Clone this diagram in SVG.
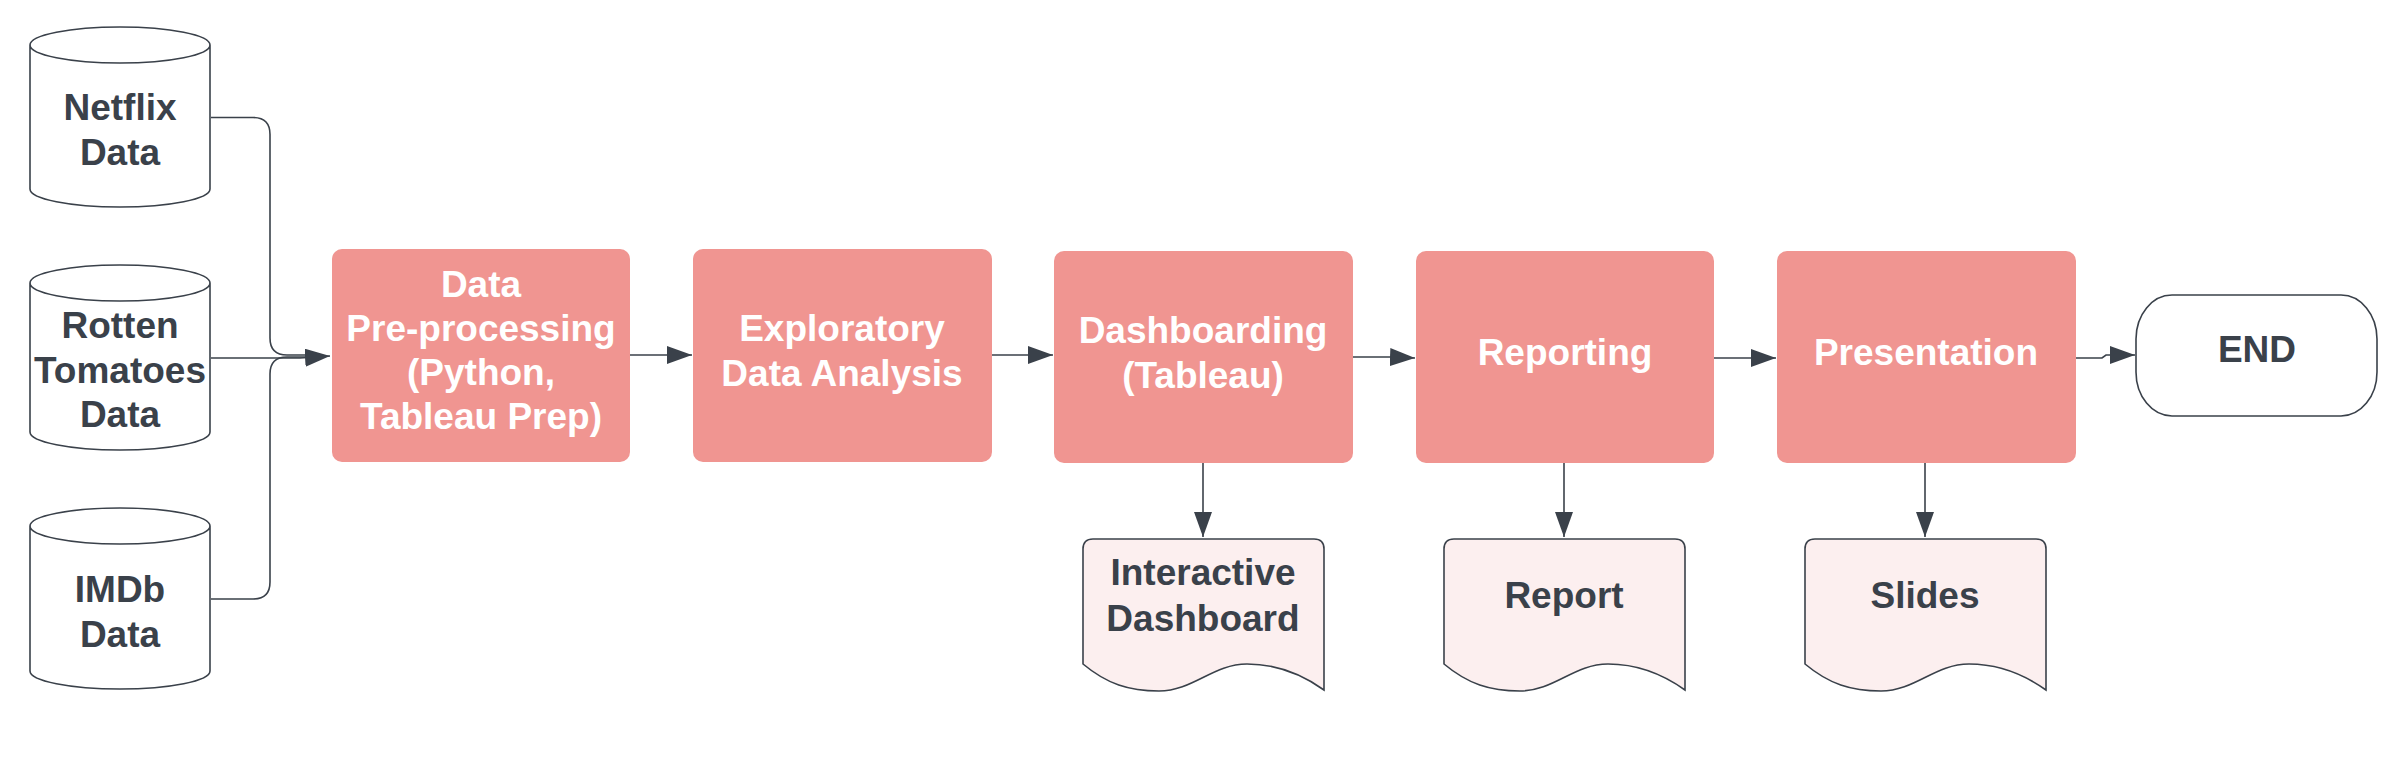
<svg xmlns="http://www.w3.org/2000/svg" width="2402" height="758" viewBox="0 0 2402 758">
<style>
.t{font-family:"Liberation Sans",Arial,sans-serif;font-weight:bold;font-size:37px;text-anchor:middle}
.dk{fill:#3a414a}
.wh{fill:#ffffff}
.box{fill:#f09591}
.shp{fill:#ffffff;stroke:#3a414a;stroke-width:1.6}
.doc{fill:#fcefef;stroke:#3a414a;stroke-width:1.6}
.ln{fill:none;stroke:#3a414a;stroke-width:1.6}
</style>
<defs>
<marker id="ah" markerUnits="userSpaceOnUse" markerWidth="26" markerHeight="18" viewBox="0 0 26 18" refX="25" refY="9" orient="auto">
<path d="M0,0 L25,9 L0,18 Z" fill="#3a414a"/>
</marker>
<path id="docshape" d="M0,10 Q0,0 10,0 H231 Q241,0 241,10 V151 C220,136 196,125 164,125 C130,125 110,152 76,152 C46,152 24,145 0,125 Z"/>
</defs>

<g id="connectors">
<path class="ln" d="M211,117.5 H253 Q270,117.5 270,134.5 V338 Q270,355 287,355 H306"/>
<path class="ln" d="M211,599 H253 Q270,599 270,582 V374 Q270,357 287,357 H306"/>
<path class="ln" d="M211,358 H300 L330,356" marker-end="url(#ah)"/>
<path class="ln" d="M630,355 H692" marker-end="url(#ah)"/>
<path class="ln" d="M992,355 H1053" marker-end="url(#ah)"/>
<path class="ln" d="M1353,357 H1390 L1415,358" marker-end="url(#ah)"/>
<path class="ln" d="M1714,358 H1776" marker-end="url(#ah)"/>
<path class="ln" d="M2076,358 H2102 L2106,355 H2135" marker-end="url(#ah)"/>
<path class="ln" d="M1203,463 V537" marker-end="url(#ah)"/>
<path class="ln" d="M1564,463 V537" marker-end="url(#ah)"/>
<path class="ln" d="M1925,463 V537" marker-end="url(#ah)"/>
</g>

<g id="netflix">
<path class="shp" d="M30,45 A90,18 0 0 1 210,45 V189 A90,18 0 0 1 30,189 Z M30,45 A90,18 0 0 0 210,45"/>
<text class="t dk" x="120" y="120">Netflix</text>
<text class="t dk" x="120" y="165">Data</text>
</g>

<g id="rotten">
<path class="shp" d="M30,283 A90,18 0 0 1 210,283 V432 A90,18 0 0 1 30,432 Z M30,283 A90,18 0 0 0 210,283"/>
<text class="t dk" x="120" y="338">Rotten</text>
<text class="t dk" x="120" y="383">Tomatoes</text>
<text class="t dk" x="120" y="427">Data</text>
</g>

<g id="imdb">
<path class="shp" d="M30,526 A90,18 0 0 1 210,526 V671 A90,18 0 0 1 30,671 Z M30,526 A90,18 0 0 0 210,526"/>
<text class="t dk" x="120" y="602">IMDb</text>
<text class="t dk" x="120" y="647">Data</text>
</g>

<g id="preprocessing">
<rect class="box" x="332" y="249" width="298" height="213" rx="10"/>
<text class="t wh" x="481" y="297">Data</text>
<text class="t wh" x="481" y="341">Pre-processing</text>
<text class="t wh" x="481" y="385">(Python,</text>
<text class="t wh" x="481" y="429">Tableau Prep)</text>
</g>

<g id="eda">
<rect class="box" x="693" y="249" width="299" height="213" rx="10"/>
<text class="t wh" x="842" y="341">Exploratory</text>
<text class="t wh" x="842" y="386">Data Analysis</text>
</g>

<g id="dashboarding">
<rect class="box" x="1054" y="251" width="299" height="212" rx="10"/>
<text class="t wh" x="1203" y="343">Dashboarding</text>
<text class="t wh" x="1203" y="388">(Tableau)</text>
</g>

<g id="reporting">
<rect class="box" x="1416" y="251" width="298" height="212" rx="10"/>
<text class="t wh" x="1565" y="365">Reporting</text>
</g>

<g id="presentation">
<rect class="box" x="1777" y="251" width="299" height="212" rx="10"/>
<text class="t wh" x="1926" y="365">Presentation</text>
</g>

<g id="end">
<rect class="shp" x="2136" y="295" width="241" height="121" rx="36" ry="44"/>
<text class="t dk" x="2257" y="362">END</text>
</g>

<g id="interactive-dashboard">
<use href="#docshape" class="doc" x="1083" y="539"/>
<text class="t dk" x="1203" y="585">Interactive</text>
<text class="t dk" x="1203" y="631">Dashboard</text>
</g>

<g id="report">
<use href="#docshape" class="doc" x="1444" y="539"/>
<text class="t dk" x="1564" y="608">Report</text>
</g>

<g id="slides">
<use href="#docshape" class="doc" x="1805" y="539"/>
<text class="t dk" x="1925" y="608">Slides</text>
</g>
</svg>
